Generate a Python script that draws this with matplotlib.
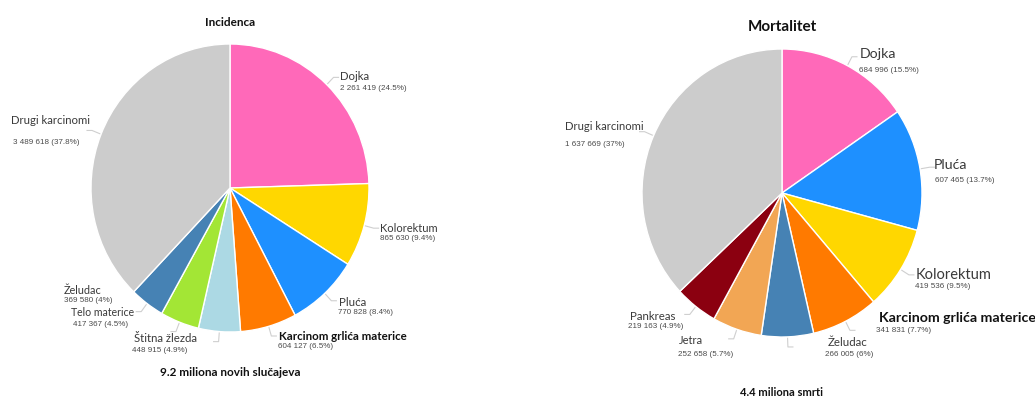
import matplotlib.pyplot as plt
import numpy as np

# Incidenca
inc_labels = ["Dojka", "Kolorektum", "Pluća", "Karcinom grlića materice",
              "Štitna žlezda", "Telo materice", "Želudac", "Drugi karcinomi"]
inc_values = [2261419, 865630, 770828, 604127, 448915, 417367, 369580, 3489618]
inc_colors = ["#ff69b9", "#ffd700", "#1e90ff", "#ff7a00",
              "#acd9e4", "#a3e635", "#4682b4", "#cccccc"]

# Mortalitet
mort_labels = ["Dojka", "Pluća", "Kolorektum", "Karcinom grlića materice",
               "Želudac", "Jetra", "Pankreas", "Drugi karcinomi"]
mort_values = [684996, 607465, 419536, 341831, 266005, 252658, 219163, 1637669]
mort_colors = ["#ff69b9", "#1e90ff", "#ffd700", "#ff7a00",
               "#4682b4", "#f2a654", "#8b0010", "#cccccc"]

W, H = 1035, 399
NAME_FONT = "Lato"
VAL_FONT = "Liberation Sans"

# label layout: (name x, name y, value x, value y, name size, bold) in pixels
inc_layout = [
    (340, 76, 340, 89, 8.2, False),
    (380, 228, 380, 239, 8.0, False),
    (339, 302, 338, 312, 8.3, False),
    (279, 336, 278, 347, 8.3, True),
    (134, 338, 132, 351, 8.2, False),
    (71, 313, 73, 324, 7.6, False),
    (64, 291, 64, 301, 7.8, False),
    (11, 121, 13, 142, 8.2, False),
]
mort_layout = [
    (860, 54, 859, 70, 10.2, False),
    (934, 165, 935, 181, 10.2, False),
    (916, 275, 915, 287, 10.5, False),
    (879, 318, 876, 330, 10.2, True),
    (828, 342, 825, 355, 8.3, False),
    (679, 340, 678, 354, 8.0, False),
    (630, 316, 628, 327, 8.3, False),
    (565, 127, 565, 145, 8.1, False),
]


def fmt_value(v, total):
    pct = f"{100 * v / total:.1f}"
    if pct.endswith(".0"):
        pct = pct[:-2]
    return f"{v:,}".replace(",", " ") + f" ({pct}%)"


def draw_pie(fig, ov, values, colors, labels, layout, cx, cy, rx, ry,
             title, title_y, title_size, footer, footer_y, footer_size):
    ax = fig.add_axes([(cx - rx) / W, (H - cy - ry) / H, 2 * rx / W, 2 * ry / H])
    ax.pie(values, colors=colors, startangle=90, counterclock=False,
           wedgeprops=dict(edgecolor="white", linewidth=1.0))
    ax.set_xlim(-1, 1)
    ax.set_ylim(-1, 1)
    ax.set_aspect("auto")

    total = sum(values)
    cum = np.cumsum(values) - np.array(values) / 2
    for (lab, v, c, lay) in zip(labels, values, cum, layout):
        nx, ny, vx, vy, size, bold = lay
        ang = np.deg2rad(90 - 360 * c / total)
        x0, y0 = cx + rx * 1.01 * np.cos(ang), cy - ry * 1.01 * np.sin(ang)
        x1, y1 = cx + rx * 1.07 * np.cos(ang), cy - ry * 1.07 * np.sin(ang)
        side = 1 if np.cos(ang) >= 0 else -1
        ov.plot([x0, x1, x1 + side * 5], [y0, y1, y1], color="#cfcfcf", lw=0.8)
        ov.text(nx, ny, lab, ha="left", va="center", fontsize=size,
                family=NAME_FONT, fontweight="bold" if bold else "normal",
                color="#111111" if bold else "#3a3a3a")
        ov.text(vx, vy, fmt_value(v, total), ha="left", va="center",
                fontsize=5.8, family=VAL_FONT, color="#4a4a4a")

    ov.text(cx, title_y, title, ha="center", va="center", fontsize=title_size,
            family=NAME_FONT, fontweight="bold", color="#111111")
    ov.text(cx, footer_y, footer, ha="center", va="center", fontsize=footer_size,
            family=NAME_FONT, fontweight="bold", color="#111111")


fig = plt.figure(figsize=(W / 100, H / 100), dpi=100)
fig.patch.set_facecolor("white")
ov = fig.add_axes([0, 0, 1, 1], zorder=5)
ov.set_xlim(0, W)
ov.set_ylim(H, 0)
ov.axis("off")

draw_pie(fig, ov, inc_values, inc_colors, inc_labels, inc_layout,
         230, 188, 139, 144, "Incidenca", 23, 8.5,
         "9.2 miliona novih slučajeva", 373, 8.5)
draw_pie(fig, ov, mort_values, mort_colors, mort_labels, mort_layout,
         782, 193, 140, 144, "Mortalitet", 27, 11,
         "4.4 miliona smrti", 393, 8)

fig.savefig("out.png", dpi=100)
